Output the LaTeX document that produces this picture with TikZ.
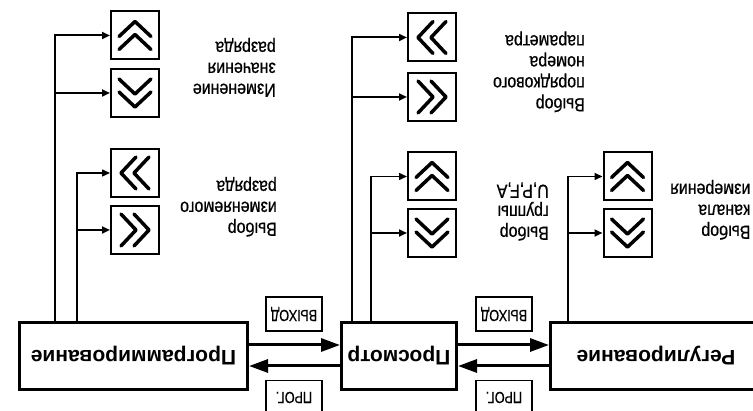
\documentclass[tikz,border=0pt]{standalone}
\usepackage{fontspec}
\setmainfont{Liberation Sans}
\newfontfamily\narrowfont[FakeStretch=0.84,FakeBold=0.6]{Liberation Sans}
\newfontfamily\tagfont[FakeStretch=0.8,FakeBold=0.4]{Liberation Sans}
\usetikzlibrary{arrows.meta}
\begin{document}
\begin{tikzpicture}[x=1pt,y=-1pt,
  mainbox/.style={draw,line width=3pt,minimum height=67pt,inner sep=0pt,font=\fontsize{21}{24}\selectfont\bfseries},
  lblbox/.style={draw,line width=1.6pt,minimum width=56pt,minimum height=34pt,inner sep=0pt,font=\tagfont\fontsize{16}{18}\selectfont},
  btn/.style={draw,line width=2pt,minimum width=48pt,minimum height=48pt,inner sep=0pt},
  lbl/.style={inner sep=0pt,font=\narrowfont\fontsize{19}{21}\selectfont},
  bigarrow/.style={line width=3pt,-{Triangle[length=19pt,width=13pt]}},
  conn/.style={line width=2pt,-{Triangle[length=8pt,width=7pt]}},
  thinconn/.style={line width=1.5pt,-{Triangle[length=8pt,width=7pt]}},
  chev/.pic={\draw[line width=3.5pt,line cap=round,line join=round] (-16,1)--(0,-14)--(16,1) (-16,14)--(0,-1)--(16,14);}
]
\useasboundingbox (0,0) rectangle (753,411);

% main boxes
\node[mainbox,minimum width=228pt] (prog) at (133.5,356) {\rotatebox{180}{Программирование}};
\node[mainbox,minimum width=115pt] (view) at (399,356) {\rotatebox{180}{Просмотр}};
\node[mainbox,minimum width=211pt] (reg) at (656,356) {\rotatebox{180}{Регулирование}};

% arrows between boxes
\draw[bigarrow] ([yshift=11pt]prog.east) -- ([yshift=11pt]view.west);
\draw[bigarrow] ([yshift=-10pt]view.west) -- ([yshift=-10pt]prog.east);
\draw[bigarrow] ([yshift=11pt]view.east) -- ([yshift=11pt]reg.west);
\draw[bigarrow] ([yshift=-10pt]reg.west) -- ([yshift=-10pt]view.east);

% labels on arrows
\node[lblbox] (out1) at (294,314) {\rotatebox{180}{ВЫХОД}};
\node[lblbox] (pr1) at (294,397.5) {\rotatebox{180}{ПРОГ.}};
\node[lblbox] (out2) at (504,314) {\rotatebox{180}{ВЫХОД}};
\node[lblbox] (pr2) at (504,397.5) {\rotatebox{180}{ПРОГ.}};

% buttons
\node[btn] (b1) at (135,35.5) {};  \pic at (b1) {chev};
\node[btn] (b2) at (135,93) {};    \pic[rotate=180] at (b2) {chev};
\node[btn] (b3) at (135,173) {};   \pic[rotate=90] at (b3) {chev};
\node[btn] (b4) at (135,230) {};   \pic[rotate=-90] at (b4) {chev};
\node[btn] (b5) at (432,37.5) {};  \pic[rotate=90] at (b5) {chev};
\node[btn] (b6) at (432,97) {};    \pic[rotate=-90] at (b6) {chev};
\node[btn] (b7) at (432,176.5) {}; \pic at (b7) {chev};
\node[btn] (b8) at (432,233) {};   \pic[rotate=180] at (b8) {chev};
\node[btn] (b9) at (627.5,176.5) {}; \pic at (b9) {chev};
\node[btn] (b10) at (627.5,233) {};  \pic[rotate=180] at (b10) {chev};

% connector lines
\coordinate (l1) at (55,0);
\coordinate (l2) at (77,0);
\coordinate (l3) at (352,0);
\coordinate (l4) at (371,0);
\coordinate (l5) at (568,0);
\draw[conn] (prog.north -| l1) |- (b1.west);
\draw[conn] (b2.west -| l1) -- (b2.west);
\draw[thinconn] (prog.north -| l2) |- (b3.west);
\draw[conn] (b4.west -| l2) -- (b4.west);
\draw[conn] (view.north -| l3) |- (b5.west);
\draw[conn] (b6.west -| l3) -- (b6.west);
\draw[thinconn] (view.north -| l4) |- (b7.west);
\draw[conn] (b8.west -| l4) -- (b8.west);
\draw[thinconn] (reg.north -| l5) |- (b9.west);
\draw[conn] (b10.west -| l5) -- (b10.west);

% descriptive texts (right edges aligned in the picture)
\node[lbl,anchor=east] (t1) at (276,67) {\rotatebox{180}{\begin{tabular}{@{}l@{}}Изменение\\значения\\разряда\end{tabular}}};
\node[lbl,anchor=east] (t2) at (277,206) {\rotatebox{180}{\begin{tabular}{@{}l@{}}Выбор\\изменяемого\\разряда\end{tabular}}};
\node[lbl,anchor=east] (t3) at (585,71) {\rotatebox{180}{\begin{tabular}{@{}l@{}}Выбор\\порядкового\\номера\\параметра\end{tabular}}};
\node[lbl,anchor=east] (t4) at (549,210) {\rotatebox{180}{\begin{tabular}{@{}l@{}}Выбор\\группы\\U,P,F,A\end{tabular}}};
\node[lbl,anchor=west] (t5) at (670,209) {\rotatebox{180}{\begin{tabular}{@{}l@{}}Выбор\\канала\\измерения\end{tabular}}};
\end{tikzpicture}
\end{document}
